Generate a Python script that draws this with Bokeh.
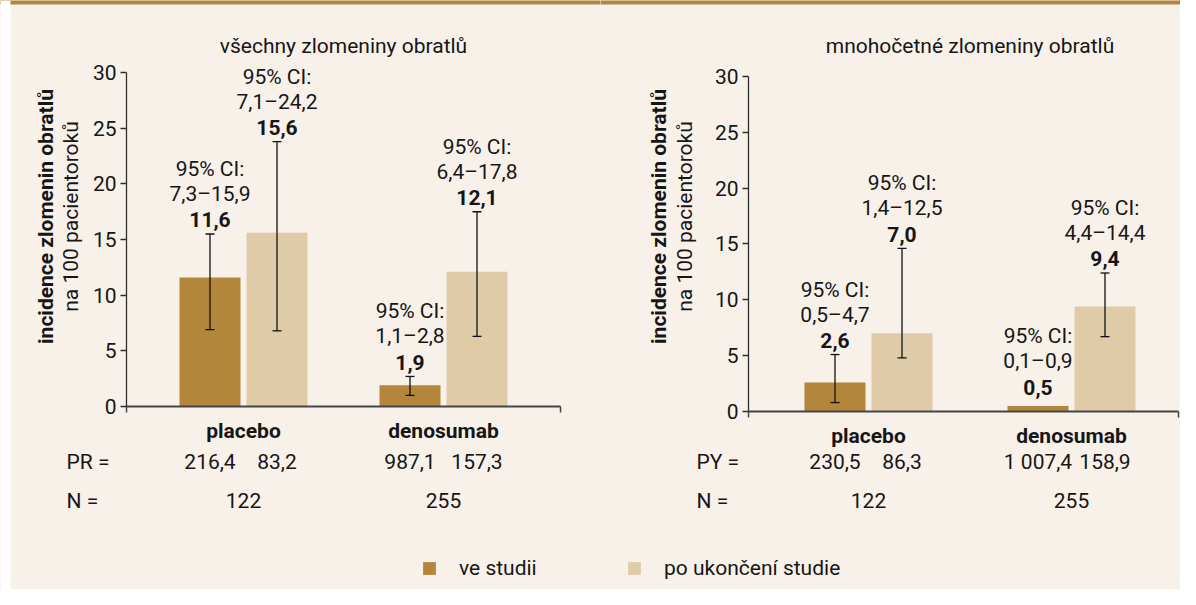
import math
from bokeh.plotting import figure
from bokeh.models import (ColumnDataSource, Whisker, TeeHead, LinearAxis, FixedTicker,
                          Legend, LegendItem, BoxAnnotation, Range1d)
from bokeh.layouts import row
from bokeh.embed import file_html
from bokeh.resources import INLINE
from bokeh.core.properties import value

# ---------------- data ----------------
groups = ["placebo", "denosumab"]
series = ["ve studii", "po ukončení studie"]
y_ticks = [0, 5, 10, 15, 20, 25, 30]

# panel 1: all vertebral fractures
all_title = "všechny zlomeniny obratlů"
all_ve = [11.6, 1.9]
all_po = [15.6, 12.1]
all_ci_ve = ["7,3–15,9", "1,1–2,8"]
all_ci_po = ["7,1–24,2", "6,4–17,8"]
all_err_ve_lo = [6.9, 1.0]
all_err_ve_hi = [15.5, 2.7]
all_err_po_lo = [6.8, 6.3]
all_err_po_hi = [23.8, 17.5]
all_whisk_ve = [True, True]
all_whisk_po = [True, True]
all_rowlab = "PR ="
all_py_ve = ["216,4", "987,1"]
all_py_po = ["83,2", "157,3"]
all_n = ["122", "255"]

# panel 2: multiple vertebral fractures
mult_title = "mnohočetné zlomeniny obratlů"
mult_ve = [2.6, 0.5]
mult_po = [7.0, 9.4]
mult_ci_ve = ["0,5–4,7", "0,1–0,9"]
mult_ci_po = ["1,4–12,5", "4,4–14,4"]
mult_err_ve_lo = [0.8, 0.1]
mult_err_ve_hi = [5.1, 0.9]
mult_err_po_lo = [4.8, 6.7]
mult_err_po_hi = [14.6, 12.4]
mult_whisk_ve = [True, False]
mult_whisk_po = [True, True]
mult_rowlab = "PY ="
mult_py_ve = ["230,5", "1 007,4"]
mult_py_po = ["86,3", "158,9"]
mult_n = ["122", "255"]

ylab_bold = "incidence zlomenin obratlů"
ylab_norm = "na 100 pacientoroků"

# ---------------- style ----------------
BG = "#F7F1EA"
DARK = "#B3863C"
LIGHT = "#E0CBA9"
BAND = "#B3883E"
TXT = "#161616"
AX = "#2e2e2e"
FONT = "Roboto"
FS = "21px"


def fmt(v):
    return f"{v:.1f}".replace(".", ",")


def panel(title, ve, po, ci_ve, ci_po, e_ve_lo, e_ve_hi, e_po_lo, e_po_hi, w_ve, w_po,
          rowlab, py_ve, py_po, nn, geo, legend_series):
    # geo: pixel layout of the panel (page coordinates)
    gx, gpx, zy, ppu = geo["gx"], geo["gpx"], geo["zero_y"], geo["ppu"]

    def dx(px):
        return 1 + (px - gx) / gpx

    def dy(py):
        return (zy - py) / ppu

    W = geo["x1"] - geo["x0"]
    H = geo["y1"] - geo["y0"]
    p = figure(width=W, height=H, output_backend="svg", toolbar_location=None,
               x_range=Range1d(dx(geo["x0"]), dx(geo["x1"])),
               y_range=Range1d(dy(geo["y1"]), dy(geo["y0"])),
               min_border=0, min_border_left=0, min_border_right=0,
               min_border_top=0, min_border_bottom=0)
    p.background_fill_color = BG
    p.border_fill_color = BG
    p.outline_line_color = None
    p.xgrid.visible = False
    p.ygrid.visible = False

    # top band
    p.add_layout(BoxAnnotation(top=dy(geo["y0"] - 2), bottom=dy(geo["y0"] + 4),
                               left=dx(geo["x0"] - 3), right=dx(geo["x1"] + 3),
                               fill_color=BAND, fill_alpha=1, line_color=None))
    if geo.get("white_left"):
        p.add_layout(BoxAnnotation(right=dx(geo["white_left"]), fill_color="white",
                                   fill_alpha=1, line_color=None))

    off = geo["off"] / gpx
    bw = geo["bw"] / gpx
    xs = [i + 1 for i in range(len(groups))]
    x_ve = [x - off for x in xs]
    x_po = [x + off for x in xs]

    r_ve = p.vbar(x=x_ve, top=ve, width=bw, bottom=0, fill_color=DARK, line_color=None)
    r_po = p.vbar(x=x_po, top=po, width=bw, bottom=0, fill_color=LIGHT, line_color=None)

    # error bars
    for xx, lo, hi, w in ((x_ve, e_ve_lo, e_ve_hi, w_ve), (x_po, e_po_lo, e_po_hi, w_po)):
        sel = [i for i in range(len(xx)) if w[i]]
        src = ColumnDataSource(dict(base=[xx[i] for i in sel], lower=[lo[i] for i in sel],
                                    upper=[hi[i] for i in sel]))
        wk = Whisker(base="base", lower="lower", upper="upper", source=src,
                     line_color="#111111", line_width=1.3,
                     upper_head=TeeHead(size=9, line_color="#111111", line_width=1.3),
                     lower_head=TeeHead(size=9, line_color="#111111", line_width=1.3))
        wk.level = "overlay"
        p.add_layout(wk)

    # labels above error bars
    for xx, vals, cis, hi in ((x_ve, ve, ci_ve, e_ve_hi), (x_po, po, ci_po, e_po_hi)):
        common = dict(text_font=value(FONT), text_font_size=FS, text_align="center",
                      text_baseline="middle", text_color=TXT)
        p.text(x=xx, y=hi, text=[fmt(v) for v in vals], y_offset=-14,
               text_font_style="bold", **common)
        p.text(x=xx, y=hi, text=cis, y_offset=-40, **common)
        p.text(x=xx, y=hi, text=["95% CI:"] * len(xx), y_offset=-65, **common)

    # title
    p.text(x=[1.5], y=[dy(geo["title_y"])], text=[title], text_font=value(FONT),
           text_font_size=FS, text_align="center", text_baseline="middle", text_color=TXT)

    # y-axis title (two lines, rotated)
    p.text(x=[dx(geo["ylab1_x"])], y=[dy(216)], text=[ylab_bold], angle=math.pi / 2,
           text_font=value(FONT), text_font_size=FS, text_font_style="bold",
           text_align="center", text_baseline="middle", text_color=TXT)
    p.text(x=[dx(geo["ylab2_x"])], y=[dy(216)], text=[ylab_norm], angle=math.pi / 2,
           text_font=value(FONT), text_font_size=FS,
           text_align="center", text_baseline="middle", text_color=TXT)

    # table below
    tcommon = dict(text_font=value(FONT), text_font_size=FS, text_baseline="middle",
                   text_color=TXT)
    p.text(x=[dx(geo["tab_x"])], y=[dy(461)], text=[rowlab], text_align="left", **tcommon)
    p.text(x=[dx(geo["tab_x"])], y=[dy(500)], text=["N ="], text_align="left", **tcommon)
    p.text(x=x_ve, y=[dy(461)] * len(x_ve), text=py_ve, text_align="center", **tcommon)
    p.text(x=x_po, y=[dy(461)] * len(x_po), text=py_po, text_align="center", **tcommon)
    p.text(x=xs, y=[dy(500)] * len(xs), text=nn, text_align="center", **tcommon)

    # axes
    yax = p.yaxis[0]
    yax.fixed_location = dx(geo["yaxis_x"])
    yax.bounds = (y_ticks[0], y_ticks[-1])
    yax.ticker = FixedTicker(ticks=y_ticks)
    yax.axis_line_color = AX
    yax.axis_line_width = 1.3
    yax.major_tick_line_color = AX
    yax.major_tick_line_width = 1.3
    yax.major_tick_in = 0
    yax.major_tick_out = 6
    yax.minor_tick_line_color = None
    yax.major_label_standoff = 4
    yax.major_label_text_font = FONT
    yax.major_label_text_font_size = FS
    yax.major_label_text_color = TXT

    xl, xr = dx(geo["yaxis_x"]), dx(geo["xaxis_end"])
    xax = p.xaxis[0]
    xax.fixed_location = 0
    xax.bounds = (xl, xr)
    xax.ticker = FixedTicker(ticks=[xl, xr])
    xax.major_label_overrides = {xl: "", xr: ""}
    xax.axis_line_color = "#444444"
    xax.axis_line_width = 2
    xax.major_tick_line_color = "#444444"
    xax.major_tick_line_width = 1.5
    xax.major_tick_in = 0
    xax.major_tick_out = 6
    xax.minor_tick_line_color = None

    lab = LinearAxis(fixed_location=0, ticker=FixedTicker(ticks=xs),
                     major_label_overrides={x: g for x, g in zip(xs, groups)})
    lab.axis_line_color = None
    lab.major_tick_line_color = None
    lab.minor_tick_line_color = None
    lab.major_label_standoff = 6
    lab.major_label_text_font = FONT
    lab.major_label_text_font_size = FS
    lab.major_label_text_font_style = "bold"
    lab.major_label_text_color = TXT
    p.add_layout(lab, "below")

    # legend (one item per panel)
    rend = r_ve if legend_series == 0 else r_po
    leg = Legend(items=[LegendItem(label=series[legend_series], renderers=[rend])],
                 location=(geo["leg_x"] - geo["x0"], geo["y1"] - 580),
                 glyph_width=16, glyph_height=16, label_height=16, label_standoff=22,
                 padding=0, margin=0, spacing=0,
                 background_fill_alpha=0, border_line_alpha=0,
                 label_text_font=FONT, label_text_font_size=FS, label_text_color=TXT)
    p.add_layout(leg)
    return p


geo_left = dict(x0=0, x1=600, y0=0, y1=589, gx=243, gpx=200, zero_y=406, ppu=11.13,
                off=33.5, bw=61, yaxis_x=126, xaxis_end=560, title_y=45,
                ylab1_x=45, ylab2_x=70, tab_x=66, leg_x=421, white_left=10)
geo_right = dict(x0=600, x1=1180, y0=0, y1=589, gx=868, gpx=203, zero_y=411, ppu=11.17,
                 off=33.5, bw=61, yaxis_x=748, xaxis_end=1178, title_y=45,
                 ylab1_x=658, ylab2_x=684, tab_x=696, leg_x=626)

p1 = panel(all_title, all_ve, all_po, all_ci_ve, all_ci_po, all_err_ve_lo, all_err_ve_hi,
           all_err_po_lo, all_err_po_hi, all_whisk_ve, all_whisk_po, all_rowlab,
           all_py_ve, all_py_po, all_n, geo_left, 0)
p2 = panel(mult_title, mult_ve, mult_po, mult_ci_ve, mult_ci_po, mult_err_ve_lo, mult_err_ve_hi,
           mult_err_po_lo, mult_err_po_hi, mult_whisk_ve, mult_whisk_po, mult_rowlab,
           mult_py_ve, mult_py_po, mult_n, geo_right, 1)

layout = row(p1, p2, spacing=0, styles={"background-color": BG})
open("out.html", "w").write(file_html(layout, INLINE))
